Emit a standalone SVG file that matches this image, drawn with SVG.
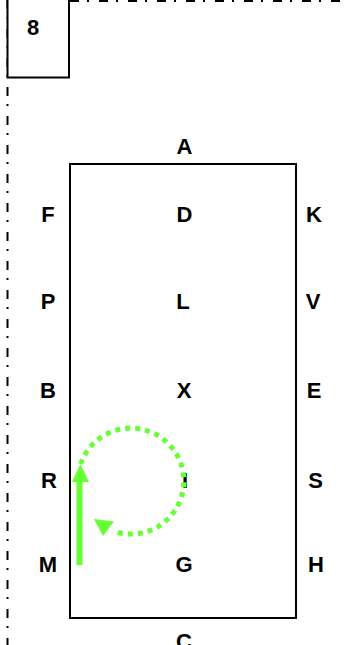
<svg xmlns="http://www.w3.org/2000/svg" width="347" height="645" viewBox="0 0 347 645">
<style>
.lbl{font-family:"Liberation Sans",Arial,sans-serif;font-weight:bold;font-size:22px;fill:#000;text-anchor:middle}
.dd{stroke:#000;stroke-width:2;fill:none;stroke-dasharray:9 8 2 10}
.g{fill:#66ff33}
</style>
<rect width="347" height="645" fill="#fff"/>
<g id="border">
<line class="dd" x1="7.5" y1="0" x2="7.5" y2="645"/>
<line class="dd" x1="70" y1="1" x2="347" y2="1"/>
</g>
<g id="card">
<rect x="7.5" y="-1" width="61.5" height="78.5" fill="#fff" stroke="#000" stroke-width="2"/>
<text class="lbl" x="33" y="35">8</text>
</g>
<g id="arena">
<rect x="70" y="164" width="226" height="454" fill="none" stroke="#000" stroke-width="2"/>
</g>
<g id="letters">
<text class="lbl" x="184.5" y="154">A</text>
<text class="lbl" x="48" y="222">F</text>
<text class="lbl" x="184.5" y="222">D</text>
<text class="lbl" x="314" y="222">K</text>
<text class="lbl" x="48" y="309">P</text>
<text class="lbl" x="183" y="309">L</text>
<text class="lbl" x="313" y="309">V</text>
<text class="lbl" x="48" y="398">B</text>
<text class="lbl" x="184" y="398">X</text>
<text class="lbl" x="314" y="398">E</text>
<text class="lbl" x="49" y="488">R</text>
<text class="lbl" x="185" y="488">I</text>
<text class="lbl" x="315.5" y="488">S</text>
<text class="lbl" x="48" y="571.5">M</text>
<text class="lbl" x="184" y="571.5">G</text>
<text class="lbl" x="316" y="571.5">H</text>
<text class="lbl" x="184" y="648.5">C</text>
</g>
<g id="connectors">
<rect class="g" x="76.5" y="480" width="6" height="85"/>
<polygon class="g" points="80.3,464 72,482 89,482"/>
<path d="M80.7 464 A53 53 0 1 1 113 531" fill="none" stroke="#66ff33" stroke-width="5" stroke-dasharray="5 5"/>
<polygon class="g" points="94,519 114,521.5 103,536"/>
</g>
</svg>
